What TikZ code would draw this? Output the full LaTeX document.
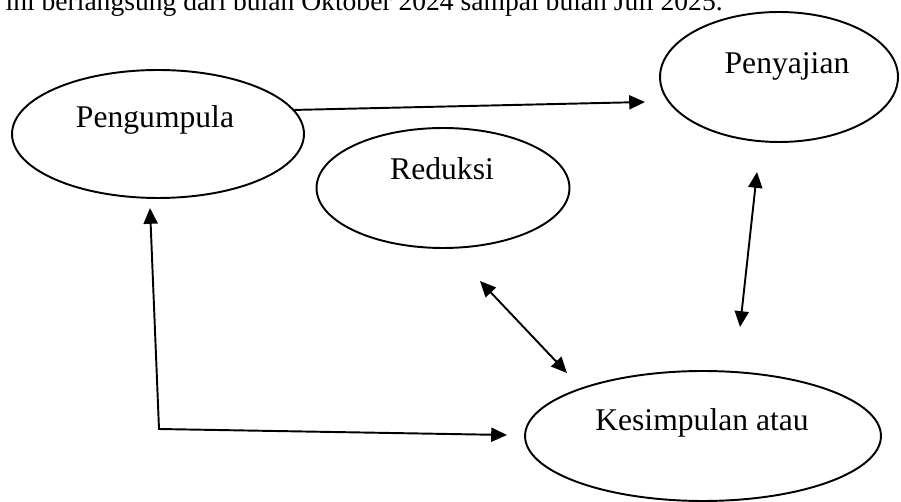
\documentclass[tikz,border=0pt]{standalone}
\usepackage{fontspec}
\setmainfont{Liberation Serif}
\usepackage{tikz}
\usetikzlibrary{shapes,arrows.meta,positioning,calc}

\begin{document}
\begin{tikzpicture}[x=0.02cm,y=-0.02cm,
    oval/.style={ellipse, draw, line width=1.1pt, inner sep=0pt},
    lbl/.style={font=\fontsize{18}{20}\selectfont},
    link/.style={line width=1.1pt, {Triangle[length=9pt,width=8pt]}-{Triangle[length=9pt,width=8pt]}},
    onelink/.style={line width=1.1pt, -{Triangle[length=9pt,width=8pt]}}]
    \useasboundingbox (0,0) rectangle (901,502);
    \clip (0,0) rectangle (901,502);

    % Text above the figure (cut off)
    \node (intro) [anchor=base east, inner sep=0pt, font=\fontsize{15.7}{18}\selectfont] at (723,11)
        {ini berlangsung dari bulan Oktober 2024 sampai bulan Juli 2025.};

    % Ovals
    \node (peng) [oval, minimum width=5.84cm, minimum height=2.56cm] at (158,134) {};
    \node (saji) [oval, minimum width=4.76cm, minimum height=2.6cm] at (779,77) {};
    \node (redu) [oval, minimum width=5.06cm, minimum height=2.4cm] at (443,188) {};
    \node (simp) [oval, minimum width=7.12cm, minimum height=2.6cm] at (703,436) {};

    \node (pengtxt) [lbl] at (155,120) {Pengumpula};
    \node (sajitxt) [lbl] at (787,66) {Penyajian};
    \node (redutxt) [lbl] at (442,169) {Reduksi};
    \node (simptxt) [lbl] at (702,423) {Kesimpulan atau};

    % Free arrow ends
    \coordinate (sajiin) at (645,102);
    \coordinate (sajidn) at (757,172);
    \coordinate (simpup) at (740,327);
    \coordinate (redudn) at (480,281);
    \coordinate (simpul) at (567,373);
    \coordinate (pengdn) at (150,208);
    \coordinate (corner) at (159,429);
    \coordinate (simpin) at (507,435);

    \draw [onelink] (peng.10.5) -- (sajiin);
    \draw [link] (sajidn) -- (simpup);
    \draw [link] (redudn) -- (simpul);
    \draw [link] (pengdn) -- (corner) -- (simpin);
\end{tikzpicture}
\end{document}
